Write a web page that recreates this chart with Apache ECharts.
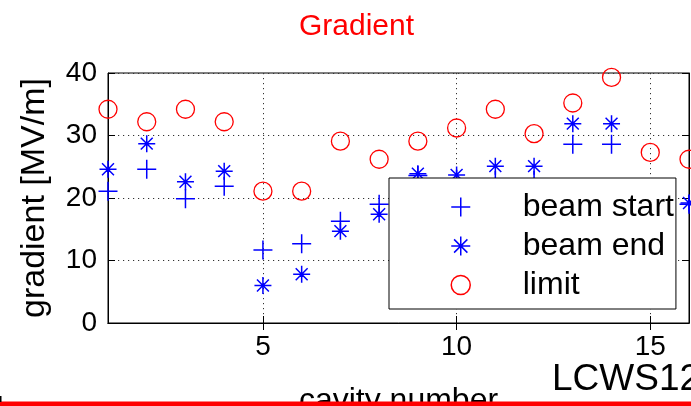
<!DOCTYPE html>
<html>
<head>
<meta charset="utf-8">
<script src="https://cdn.jsdelivr.net/npm/echarts@6/dist/echarts.min.js"></script>
<style>
  html, body { margin: 0; padding: 0; background: #fff; }
  #chart { width: 691px; height: 406px; }
</style>
</head>
<body>
<div id="chart"></div>
<script>
// Measured accelerating gradient per cavity
const cavities  = [1, 2, 3, 4, 5, 6, 7, 8, 9, 10, 11, 12, 13, 14, 15, 16];
const beamStart = [21.1, 24.6, 19.9, 21.9, 11.7, 12.7, 16.3, 19.0, 23.6, 23.0, 22.8, 22.8, 28.6, 28.6, 18.5, 19.0];
const beamEnd   = [24.6, 28.7, 22.6, 24.3, 6.0, 7.8, 14.7, 17.4, 23.9, 23.7, 25.1, 25.1, 31.9, 31.9, 19.0, 19.2];
const limit     = [34.2, 32.2, 34.2, 32.2, 21.1, 21.1, 29.1, 26.2, 29.1, 31.2, 34.2, 30.3, 35.2, 39.3, 27.3, 26.2];

const xTicks = [5, 10, 15];
const yTicks = [0, 10, 20, 30, 40];

const FONT = "'Liberation Sans', Arial, Helvetica, sans-serif";
const BLUE = '#0000ff';
const RED = '#ff0000';

// Marker shapes in the style of classic plotting tools
const PLUS = 'path://M0,-1 L0,1 M-1,0 L1,0';
const STAR = 'path://M0,-1 L0,1 M-1,0 L1,0 M-0.7,-0.7 L0.7,0.7 M-0.7,0.7 L0.7,-0.7 ' +
             'M0.13,0 A0.13,0.13 0 1 1 -0.13,0 A0.13,0.13 0 1 1 0.13,0 Z';

const pairs = (ys) => cavities.map((c, i) => [c, ys[i]]);

const gridDots = { color: '#333', width: 1, type: [1.2, 3.8] };

const chart = echarts.init(document.getElementById('chart'), null, { renderer: 'canvas' });

chart.setOption({
  animation: false,
  backgroundColor: '#fff',
  textStyle: { fontFamily: FONT },
  title: {
    text: 'Gradient',
    left: 294,
    top: 7,
    textStyle: { color: RED, fontSize: 30, fontWeight: 'normal', fontFamily: FONT }
  },
  grid: {
    left: 108, right: 2, top: 73, bottom: 83,
    containLabel: false,
    outerBoundsMode: 'none',
    show: true, borderColor: '#000', borderWidth: 1, backgroundColor: '#fff'
  },
  legend: {
    data: ['beam start', 'beam end', 'limit'],
    orient: 'vertical',
    align: 'left',
    left: 389,
    top: 178,
    z: 10,
    padding: [13, 2, 8, 61.5],
    itemWidth: 114,
    itemHeight: 19,
    itemGap: 7,
    backgroundColor: '#fff',
    borderColor: '#000',
    borderWidth: 1,
    borderRadius: 0,
    selectedMode: false,
    itemStyle: { borderWidth: 1.5 },
    textStyle: { color: '#000', fontSize: 32, fontFamily: FONT }
  },
  xAxis: [
    {
      type: 'value', min: 1, max: 16, position: 'bottom',
      axisLine: { show: true, lineStyle: { color: '#000', width: 1 } },
      axisTick: { show: true, inside: true, length: 7, customValues: xTicks, lineStyle: { color: '#000' } },
      axisLabel: { customValues: xTicks, color: '#000', fontSize: 28, margin: 10, fontFamily: FONT },
      splitLine: { show: true, lineStyle: gridDots },
      name: 'cavity number', nameLocation: 'middle', nameGap: 62,
      nameTextStyle: { color: '#000', fontSize: 32, fontFamily: FONT }
    },
    {
      type: 'value', min: 1, max: 16, position: 'top',
      axisLine: { show: true, lineStyle: { color: '#000', width: 1 } },
      axisTick: { show: true, inside: true, length: 7, customValues: xTicks, lineStyle: { color: '#000' } },
      axisLabel: { show: false },
      splitLine: { show: false }
    }
  ],
  yAxis: [
    {
      type: 'value', min: 0, max: 40, interval: 10, position: 'left',
      axisLine: { show: true, lineStyle: { color: '#000', width: 1 } },
      axisTick: { show: true, inside: true, length: 7, lineStyle: { color: '#000' } },
      axisLabel: { color: '#000', fontSize: 28, margin: 11, fontFamily: FONT,
                   formatter: (v) => (yTicks.indexOf(v) >= 0 ? String(v) : '') },
      splitLine: { show: true, lineStyle: gridDots },
      name: 'gradient [MV/m]', nameLocation: 'middle', nameGap: 56, nameRotate: 90,
      nameTextStyle: { color: '#000', fontSize: 34, fontFamily: FONT }
    },
    {
      type: 'value', min: 0, max: 40, interval: 10, position: 'right',
      axisLine: { show: true, lineStyle: { color: '#000', width: 1 } },
      axisTick: { show: true, inside: true, length: 7, lineStyle: { color: '#000' } },
      axisLabel: { show: false },
      splitLine: { show: false }
    }
  ],
  series: [
    {
      name: 'beam start', type: 'scatter', clip: false, z: 3,
      xAxisIndex: 0, yAxisIndex: 0,
      symbol: PLUS, symbolSize: 19,
      itemStyle: { color: 'rgba(0,0,0,0)', borderColor: BLUE, borderWidth: 1.5, opacity: 1 },
      emphasis: { disabled: true },
      data: pairs(beamStart)
    },
    {
      name: 'beam end', type: 'scatter', clip: false, z: 3,
      xAxisIndex: 0, yAxisIndex: 0,
      symbol: STAR, symbolSize: 17,
      itemStyle: { color: BLUE, borderColor: BLUE, borderWidth: 1.5, opacity: 1 },
      emphasis: { disabled: true },
      data: pairs(beamEnd)
    },
    {
      name: 'limit', type: 'scatter', clip: false, z: 3,
      xAxisIndex: 0, yAxisIndex: 0,
      symbol: 'circle', symbolSize: 18,
      itemStyle: { color: 'rgba(0,0,0,0)', borderColor: RED, borderWidth: 1.3, opacity: 1 },
      emphasis: { disabled: true },
      data: pairs(limit)
    }
  ],
  graphic: [
    {
      type: 'text', left: 552, top: 361, z: 50,
      style: { text: 'LCWS12', fill: '#000', fontSize: 37, fontFamily: FONT }
    },
    {
      type: 'rect', left: 0, top: 401.5, z: 60,
      shape: { width: 691, height: 5 },
      style: { fill: RED }
    },
    {
      type: 'rect', left: 0, top: 396, z: 60,
      shape: { width: 1.5, height: 6 },
      style: { fill: '#000' }
    }
  ]
});
</script>
</body>
</html>
